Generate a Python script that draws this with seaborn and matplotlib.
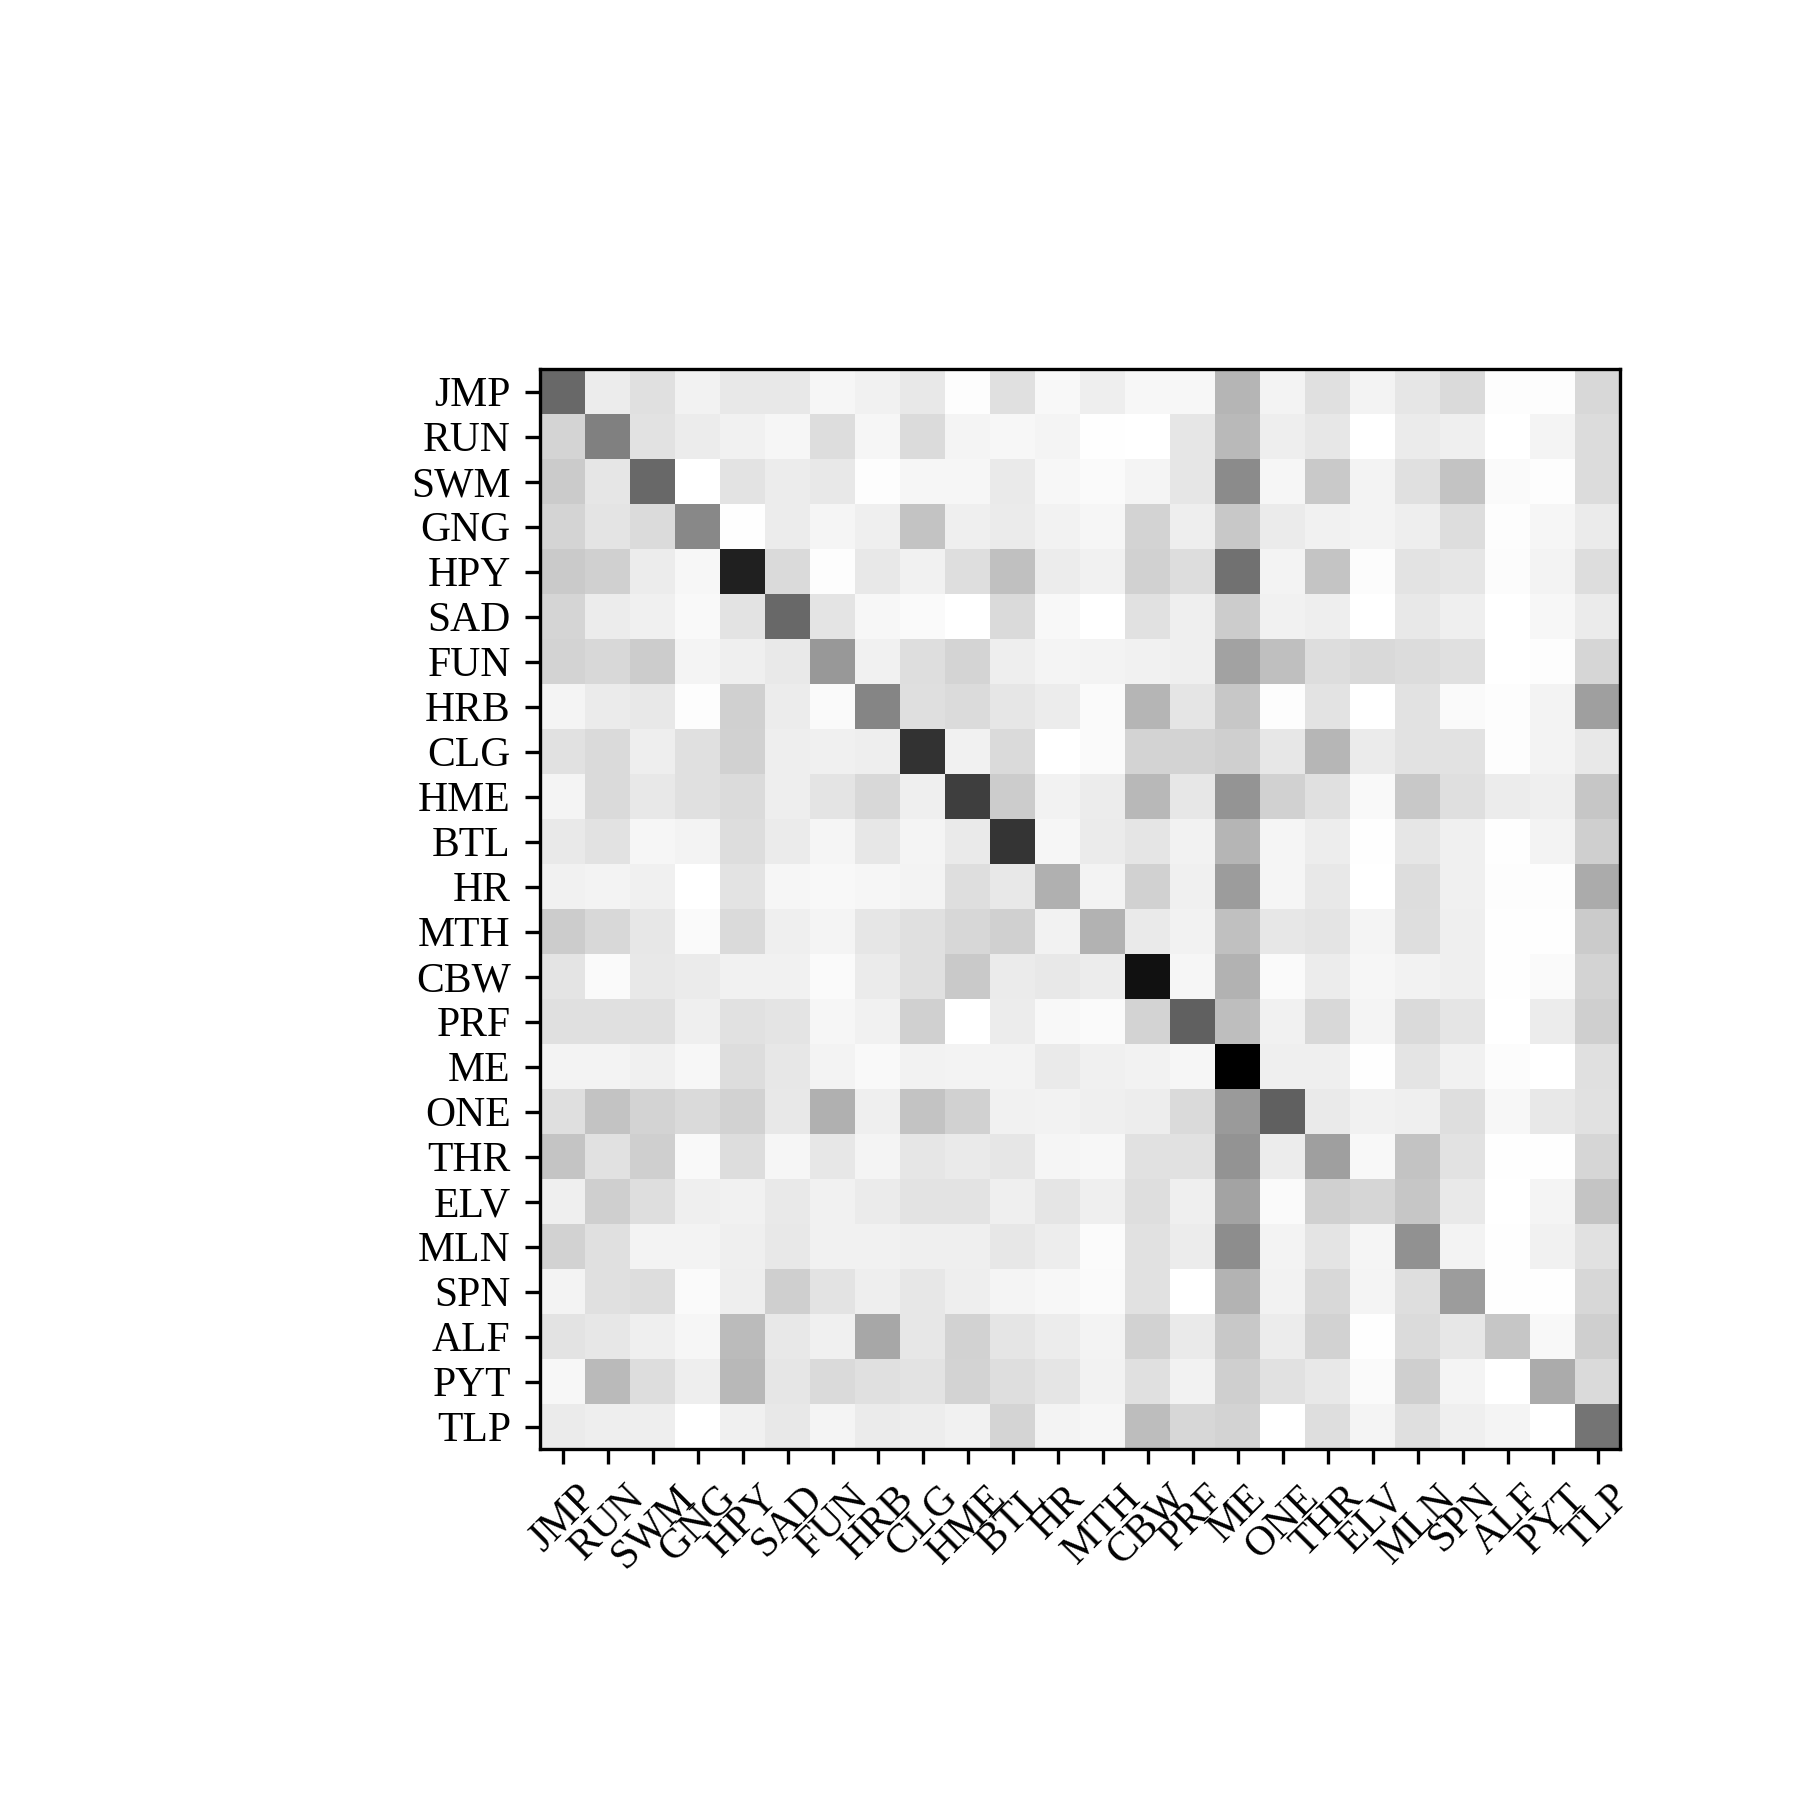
import matplotlib
matplotlib.use('Agg')
import matplotlib.pyplot as plt
import numpy as np
import seaborn as sns

# class labels of the confusion matrix
labels = ['JMP', 'RUN', 'SWM', 'GNG', 'HPY', 'SAD', 'FUN', 'HRB', 'CLG', 'HME', 'BTL', 'HR',
          'MTH', 'CBW', 'PRF', 'ME', 'ONE', 'THR', 'ELV', 'MLN', 'SPN', 'ALF', 'PYT', 'TLP']

# one list per row (true class)
row_jmp = [151, 19, 31, 13, 23, 23, 9, 14, 23, 2, 31, 7, 17, 8, 8, 74, 12, 31, 12, 25, 37, 2, 2, 39]
row_run = [43, 127, 29, 19, 14, 9, 34, 9, 36, 11, 8, 11, 1, 0, 25, 70, 17, 24, 0, 20, 16, 0, 11, 35]
row_swm = [52, 25, 151, 0, 28, 19, 23, 2, 9, 9, 21, 8, 5, 11, 25, 116, 9, 54, 12, 31, 60, 5, 2, 35]
row_gng = [43, 27, 36, 119, 1, 19, 10, 16, 60, 16, 20, 13, 9, 44, 17, 55, 20, 14, 12, 17, 34, 2, 9, 20]
row_hpy = [53, 47, 19, 8, 223, 37, 2, 23, 14, 33, 63, 19, 14, 46, 34, 142, 12, 59, 3, 28, 25, 3, 12, 34]
row_sad = [42, 19, 15, 6, 28, 151, 27, 8, 5, 0, 37, 7, 0, 30, 16, 51, 14, 17, 0, 23, 16, 0, 8, 20]
row_fun = [44, 39, 51, 11, 16, 22, 103, 14, 33, 43, 17, 11, 12, 14, 16, 93, 64, 34, 38, 35, 31, 0, 2, 41]
row_hrb = [11, 20, 23, 2, 47, 19, 5, 122, 32, 36, 25, 19, 5, 74, 26, 56, 2, 28, 0, 29, 5, 2, 12, 96]
row_clg = [30, 37, 17, 31, 46, 17, 15, 17, 205, 14, 37, 0, 5, 44, 44, 48, 24, 73, 20, 29, 29, 2, 12, 23]
row_hme = [11, 37, 23, 31, 36, 17, 27, 39, 16, 193, 51, 13, 19, 71, 24, 107, 46, 31, 6, 55, 32, 19, 16, 57]
row_btl = [22, 29, 9, 12, 34, 20, 10, 24, 11, 21, 203, 9, 20, 26, 13, 74, 10, 18, 1, 25, 15, 1, 12, 48]
row_hr = [14, 12, 15, 0, 28, 9, 7, 9, 12, 33, 23, 79, 12, 46, 15, 99, 10, 23, 0, 34, 15, 2, 2, 84]
row_mth = [51, 39, 24, 5, 37, 16, 11, 25, 31, 40, 47, 13, 77, 21, 13, 63, 24, 27, 11, 33, 16, 1, 1, 52]
row_cbw = [27, 5, 23, 20, 14, 14, 5, 20, 31, 54, 20, 23, 19, 238, 9, 77, 5, 19, 9, 13, 16, 1, 5, 44]
row_prf = [31, 31, 31, 16, 30, 27, 9, 14, 47, 0, 19, 7, 5, 44, 159, 65, 14, 39, 11, 37, 26, 0, 19, 48]
row_me = [12, 12, 15, 8, 34, 24, 12, 6, 13, 12, 12, 21, 15, 13, 9, 255, 16, 16, 1, 27, 14, 3, 0, 31]
row_one = [32, 60, 44, 37, 45, 23, 79, 16, 60, 46, 14, 13, 16, 18, 37, 101, 159, 21, 14, 16, 33, 8, 23, 30]
row_thr = [59, 30, 48, 6, 34, 9, 24, 11, 25, 21, 25, 10, 8, 30, 30, 108, 19, 96, 7, 60, 29, 1, 1, 41]
row_elv = [16, 48, 33, 16, 14, 22, 14, 20, 28, 28, 16, 26, 16, 33, 16, 92, 5, 47, 41, 57, 22, 0, 11, 59]
row_mln = [45, 31, 12, 12, 16, 23, 14, 14, 16, 16, 24, 18, 4, 30, 19, 114, 12, 27, 10, 110, 12, 1, 14, 30]
row_spn = [12, 31, 34, 5, 17, 48, 28, 17, 24, 17, 11, 8, 5, 30, 0, 76, 13, 39, 11, 33, 99, 1, 1, 40]
row_alf = [28, 24, 16, 9, 68, 23, 15, 88, 24, 45, 26, 19, 12, 45, 21, 55, 19, 45, 1, 36, 24, 57, 7, 48]
row_pyt = [8, 69, 34, 17, 71, 25, 37, 31, 28, 44, 33, 26, 13, 31, 13, 48, 30, 23, 5, 48, 11, 0, 84, 37]
row_tlp = [20, 17, 17, 0, 15, 23, 11, 20, 18, 14, 43, 12, 9, 66, 40, 44, 0, 33, 11, 32, 16, 11, 0, 139]

conf = np.array([row_jmp, row_run, row_swm, row_gng, row_hpy, row_sad, row_fun, row_hrb,
                 row_clg, row_hme, row_btl, row_hr, row_mth, row_cbw, row_prf, row_me,
                 row_one, row_thr, row_elv, row_mln, row_spn, row_alf, row_pyt, row_tlp])

plt.rcParams['font.family'] = ['Liberation Serif', 'DejaVu Serif']
plt.rcParams['font.size'] = 10

fig = plt.figure(figsize=(6, 6), dpi=300)
fig.subplots_adjust(left=0.3)
ax = fig.add_subplot(111)

sns.heatmap(conf, cmap='gray_r', cbar=False, square=True, ax=ax,
            xticklabels=labels, yticklabels=labels)

# bring back the frame and the tick marks that heatmap hides
for s in ax.spines.values():
    s.set_visible(True)
    s.set_linewidth(0.8)
    s.set_color('black')
ax.tick_params(axis='both', length=3.5, width=0.8, color='black')
plt.setp(ax.get_xticklabels(), rotation=45, ha='center')
plt.setp(ax.get_yticklabels(), rotation=0, va='center_baseline')

fig.savefig('out.png', dpi=300)
